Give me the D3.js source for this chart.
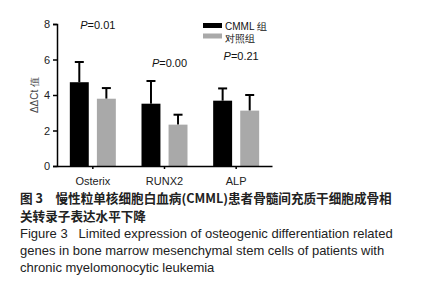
<!DOCTYPE html>
<html><head><meta charset="utf-8">
<script src="https://cdn.jsdelivr.net/npm/d3@7"></script>
<style>body{margin:0;background:#fff}svg{display:block}</style>
</head><body>
<svg id="c" width="425" height="300"></svg>
<script>
const categories = ["Osterix", "RUNX2", "ALP"];
const seriesNames = ["CMML 组", "对照组"];
const cmmlMeans = [4.72, 3.51, 3.68];
const cmmlErrTop = [5.86, 4.79, 4.37];
const ctrlMeans = [3.79, 2.33, 3.12];
const ctrlErrTop = [4.39, 2.89, 4.00];
const pLabels = ["0.01", "0.00", "0.21"];
const pLabelY = [8.0, 5.85, 6.25];
const yTicks = [0, 2, 4, 6, 8];
const captionLines = [
  "图 3　慢性粒单核细胞白血病(CMML)患者骨髓间充质干细胞成骨相",
  "关转录子表达水平下降"
];
const captionEn = [
  "Figure 3   Limited expression of osteogenic differentiation related",
  "genes in bone marrow mesenchymal stem cells of patients with",
  "chronic myelomonocytic leukemia"
];

const svg = d3.select("#c");
const font = "Liberation Sans, Arial, sans-serif";
const y = d3.scaleLinear().domain([0, 8]).range([166, 24]);
const x = d3.scaleBand().domain(categories).range([57, 272]);
const sub = d3.scaleBand().domain([0, 1]).range([-23, 23]).paddingInner(0.3);
const colors = ["#000000", "#a9a9a9"];
const series = [
  {means: cmmlMeans, err: cmmlErrTop},
  {means: ctrlMeans, err: ctrlErrTop}
];

const g = svg.append("g");
series.forEach((s, si) => {
  categories.forEach((c, i) => {
    const cx = x(c) + x.bandwidth() / 2 + sub(si);
    const w = sub.bandwidth();
    const mid = cx + w / 2;
    g.append("line").attr("x1", mid).attr("x2", mid)
      .attr("y1", y(s.means[i])).attr("y2", y(s.err[i]))
      .attr("stroke", "#000").attr("stroke-width", 2);
    g.append("line").attr("x1", mid - 4.5).attr("x2", mid + 4.5)
      .attr("y1", y(s.err[i])).attr("y2", y(s.err[i]))
      .attr("stroke", "#000").attr("stroke-width", 2);
    g.append("rect").attr("x", cx).attr("width", w)
      .attr("y", y(s.means[i])).attr("height", y(0) - y(s.means[i]))
      .attr("fill", colors[si]);
  });
});

const ya = svg.append("g").attr("transform", "translate(57,0)")
  .call(d3.axisLeft(y).tickValues(yTicks).tickSize(4).tickPadding(3));
ya.select(".domain").attr("stroke-width", 1.5);
ya.selectAll(".tick line").attr("stroke-width", 1.5);
ya.selectAll("text").attr("font-family", font).attr("font-size", 11).attr("fill", "#222");

const xa = svg.append("g").attr("transform", "translate(0,166)")
  .call(d3.axisBottom(x).tickSize(3).tickPadding(8).tickSizeOuter(0));
xa.select(".domain").attr("stroke-width", 1.5);
xa.selectAll(".tick line").attr("stroke-width", 1.5);
xa.selectAll("text").attr("font-family", font).attr("font-size", 11).attr("fill", "#222");

svg.append("text").attr("transform", "translate(38,95) rotate(-90)")
  .attr("text-anchor", "middle").attr("font-family", font).attr("font-size", 10)
  .attr("fill", "#444").text("ΔΔCt 值");

categories.forEach((c, i) => {
  const t = svg.append("text").attr("x", x(c) + x.bandwidth() / 2 + 5)
    .attr("y", y(pLabelY[i]) + 5).attr("text-anchor", "middle")
    .attr("font-family", font).attr("font-size", 11).attr("fill", "#111");
  t.append("tspan").attr("font-style", "italic").text("P");
  t.append("tspan").text("=" + pLabels[i]);
});

seriesNames.forEach((n, i) => {
  svg.append("rect").attr("x", 203).attr("y", 23 + i * 10.5).attr("width", 19)
    .attr("height", 5).attr("fill", colors[i]);
  svg.append("text").attr("x", 225).attr("y", 29.5 + i * 12)
    .attr("font-family", font).attr("font-size", 10).attr("fill", "#111").text(n);
});

captionLines.forEach((l, i) => {
  svg.append("text").attr("x", 20).attr("y", 203 + i * 17.5)
    .attr("font-family", "Noto Sans CJK SC, sans-serif").attr("font-weight", "bold")
    .attr("font-size", 12.6).attr("fill", "#222").text(l);
});
captionEn.forEach((l, i) => {
  svg.append("text").attr("x", 20).attr("y", 238 + i * 17)
    .attr("font-family", font).attr("font-size", 13).attr("fill", "#222")
    .attr("xml:space", "preserve").style("white-space", "pre").text(l);
});
</script>
</body></html>
